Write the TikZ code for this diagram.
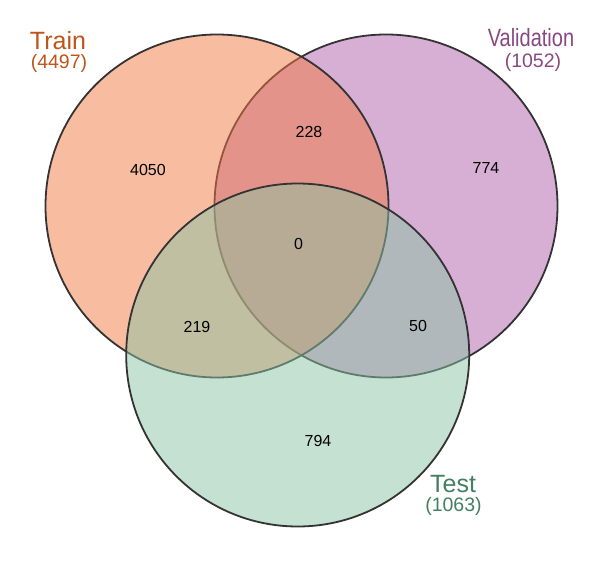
\documentclass[tikz,border=0pt]{standalone}
\usepackage{fontspec}
\setmainfont{Liberation Sans}
\definecolor{trainc}{RGB}{241,121,65}
\definecolor{valc}{RGB}{177,95,169}
\definecolor{testc}{RGB}{139,195,165}
\definecolor{edgec}{RGB}{51,51,51}
\definecolor{trainlab}{RGB}{190,84,26}
\definecolor{vallab}{RGB}{136,72,130}
\definecolor{testlab}{RGB}{66,128,98}
\tikzset{
  setcircle/.style={circle, draw=edgec, line width=1.8pt, fill opacity=0.5,
    minimum size=343pt, inner sep=0pt, outer sep=0pt},
  title/.style={anchor=base, inner sep=0pt, font=\fontsize{25}{26}\selectfont},
  count/.style={anchor=base, inner sep=0pt, font=\fontsize{19.5}{21}\selectfont},
  region/.style={anchor=base, inner sep=0pt, text=black, font=\fontsize{16}{17}\selectfont}
}
\begin{document}
\begin{tikzpicture}[x=1pt,y=-1pt]
\useasboundingbox (0,0) rectangle (600,578);
% circles (order: validation, train, test)
\node[setcircle, fill=valc] (val) at (386,206) {};
\node[setcircle, fill=trainc] (train) at (217,206) {};
\node[setcircle, fill=testc] (test) at (297.7,355) {};
% set titles
\node[title, text=trainlab] (traint) at (58,50) {Train};
\node[count, text=trainlab] (trainn) at (59,69) {(4497)};
\node[title, text=vallab] (valt) at (531,47) {\scalebox{0.8}[1]{Validation}};
\node[count, text=vallab] (valn) at (533,67) {(1052)};
\node[title, text=testlab] (testt) at (453,492) {Test};
\node[count, text=testlab] (testn) at (453.5,511) {(1063)};
% region counts
\node[region] (r100) at (148,175) {4050};
\node[region] (r110) at (309,137) {228};
\node[region] (r010) at (486,173) {774};
\node[region] (r111) at (298.5,249) {0};
\node[region] (r101) at (197,332) {219};
\node[region] (r011) at (418,331.5) {50};
\node[region] (r001) at (318,446) {794};
\end{tikzpicture}
\end{document}
